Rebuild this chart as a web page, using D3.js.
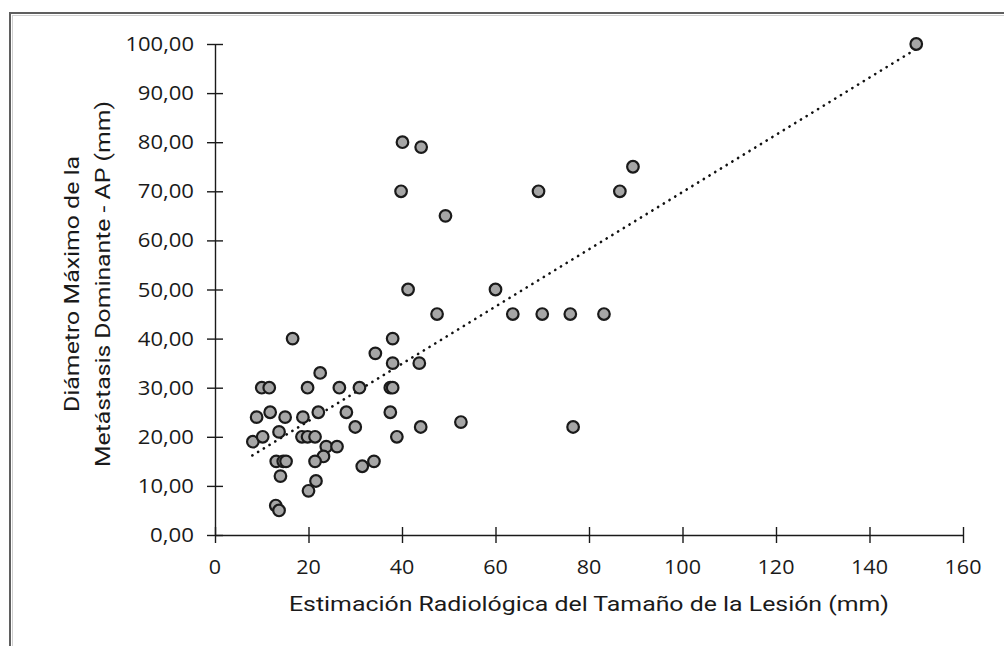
<!DOCTYPE html>
<html>
<head>
<meta charset="utf-8">
<script src="https://cdn.jsdelivr.net/npm/d3@7"></script>
<style>
  html, body { margin: 0; padding: 0; background: #ffffff; }
  svg { display: block; }
  text { font-family: "Roboto", "Open Sans", sans-serif; fill: #1a1a1a; }
  .tick-label { font-family: "Open Sans", "Roboto", sans-serif; }
</style>
</head>
<body>
<svg id="chart" width="1004" height="646"></svg>
<script>
// Lesion size estimate (mm) vs. maximum diameter of the dominant metastasis (mm)
const xValues = [150, 40.1, 44.1, 39.8, 69.2, 86.6, 89.4, 49.3, 41.3, 60,
  47.5, 63.7, 70, 76, 83.2, 16.6, 38, 34.3, 38, 43.7,
  22.5, 10, 11.6, 19.8, 26.6, 30.9, 37.5, 38, 8.9, 11.8,
  15, 18.8, 22.1, 28.1, 37.5, 30, 44, 52.6, 76.6, 8.1,
  10.2, 13.7, 18.6, 19.8, 21.4, 38.9, 23.8, 26.1, 23.2, 21.4,
  13.1, 14.6, 15.2, 31.5, 34, 14, 21.6, 20, 13, 13.7];
const yValues = [100, 80, 79, 70, 70, 70, 75, 65, 50, 50,
  45, 45, 45, 45, 45, 40, 40, 37, 35, 35,
  33, 30, 30, 30, 30, 30, 30, 30, 24, 25,
  24, 24, 25, 25, 25, 22, 22, 23, 22, 19,
  20, 21, 20, 20, 20, 20, 18, 18, 16, 15,
  15, 15, 15, 14, 15, 12, 11, 9, 6, 5];

// Linear trend line (end points)
const trendX = [8, 150];
const trendY = [16.2, 99.0];

const xTicks = [0, 20, 40, 60, 80, 100, 120, 140, 160];
const yTicks = [0, 10, 20, 30, 40, 50, 60, 70, 80, 90, 100];

const xTitle = "Estimación Radiológica del Tamaño de la Lesión (mm)";
const yTitleLines = ["Diámetro Máximo de la", "Metástasis Dominante - AP (mm)"];

const svg = d3.select("#chart");

// outer chart frame
svg.append("rect")
  .attr("x", 10).attr("y", 13).attr("width", 1100).attr("height", 700)
  .attr("fill", "none").attr("stroke", "#5f5f5f").attr("stroke-width", 2);
svg.append("rect")
  .attr("x", 12.5).attr("y", 15.5).attr("width", 1100).attr("height", 700)
  .attr("fill", "none").attr("stroke", "#d0d0d0").attr("stroke-width", 1);

const x = d3.scaleLinear().domain([0, 160]).range([215, 963]);
const y = d3.scaleLinear().domain([0, 100]).range([535, 44]);

const fmtComma = v => d3.format(".2f")(v).replace(".", ",");
// label width: digits and comma of the tick font
const labelWidth = s => s.replace(/[^0-9]/g, "").length * 12.3 + (s.includes(",") ? 7 : 0);

// axes with crossing tick marks
const xAxis = svg.append("g").attr("transform", `translate(0,${y(0)})`)
  .call(d3.axisBottom(x).tickValues(xTicks).tickSize(0).tickFormat(""));
xAxis.select(".domain").attr("stroke", "#1a1a1a").attr("stroke-width", 1.4);
xAxis.selectAll(".tick").append("line")
  .attr("y1", -8).attr("y2", 8).attr("stroke", "#1a1a1a").attr("stroke-width", 1.4);

const yAxis = svg.append("g").attr("transform", `translate(${x(0)},0)`)
  .call(d3.axisLeft(y).tickValues(yTicks).tickSize(0).tickFormat(""));
yAxis.select(".domain").attr("stroke", "#1a1a1a").attr("stroke-width", 1.4);
yAxis.selectAll(".tick").append("line")
  .attr("x1", -8).attr("x2", 8).attr("stroke", "#1a1a1a").attr("stroke-width", 1.4);

// tick labels
svg.append("g").selectAll("text").data(xTicks).join("text")
  .attr("class", "tick-label")
  .attr("x", d => x(d)).attr("y", 574)
  .attr("text-anchor", "middle").attr("font-size", 20)
  .attr("textLength", d => labelWidth(String(d))).attr("lengthAdjust", "spacingAndGlyphs")
  .text(d => d);

svg.append("g").selectAll("text").data(yTicks).join("text")
  .attr("class", "tick-label")
  .attr("x", 194).attr("y", d => y(d) + 7)
  .attr("text-anchor", "end").attr("font-size", 20)
  .attr("textLength", d => labelWidth(fmtComma(d))).attr("lengthAdjust", "spacingAndGlyphs")
  .text(d => fmtComma(d));

// axis titles
svg.append("text")
  .attr("x", 589).attr("y", 611)
  .attr("text-anchor", "middle").attr("font-size", 21)
  .attr("textLength", 600).attr("lengthAdjust", "spacingAndGlyphs")
  .text(xTitle);

const yTitle = svg.append("g").attr("transform", "translate(0,284) rotate(-90)");
yTitle.selectAll("text").data(yTitleLines).join("text")
  .attr("x", 0).attr("y", (d, i) => 79 + i * 31)
  .attr("text-anchor", "middle").attr("font-size", 21)
  .attr("textLength", (d, i) => i === 0 ? 256 : 366)
  .attr("lengthAdjust", "spacingAndGlyphs")
  .text(d => d);

// dotted linear trend line
svg.append("path")
  .datum(trendX.map((v, i) => [v, trendY[i]]))
  .attr("d", d3.line().x(d => x(d[0])).y(d => y(d[1])))
  .attr("fill", "none").attr("stroke", "#111")
  .attr("stroke-width", 2.6).attr("stroke-linecap", "round")
  .attr("stroke-dasharray", "0.1 6.6");

// data points
svg.append("g").selectAll("circle")
  .data(xValues.map((v, i) => [v, yValues[i]]))
  .join("circle")
  .attr("cx", d => x(d[0])).attr("cy", d => y(d[1]))
  .attr("r", 5.8)
  .attr("fill", "#a6a6a6").attr("stroke", "#1a1a1a").attr("stroke-width", 2.2);
</script>
</body>
</html>
